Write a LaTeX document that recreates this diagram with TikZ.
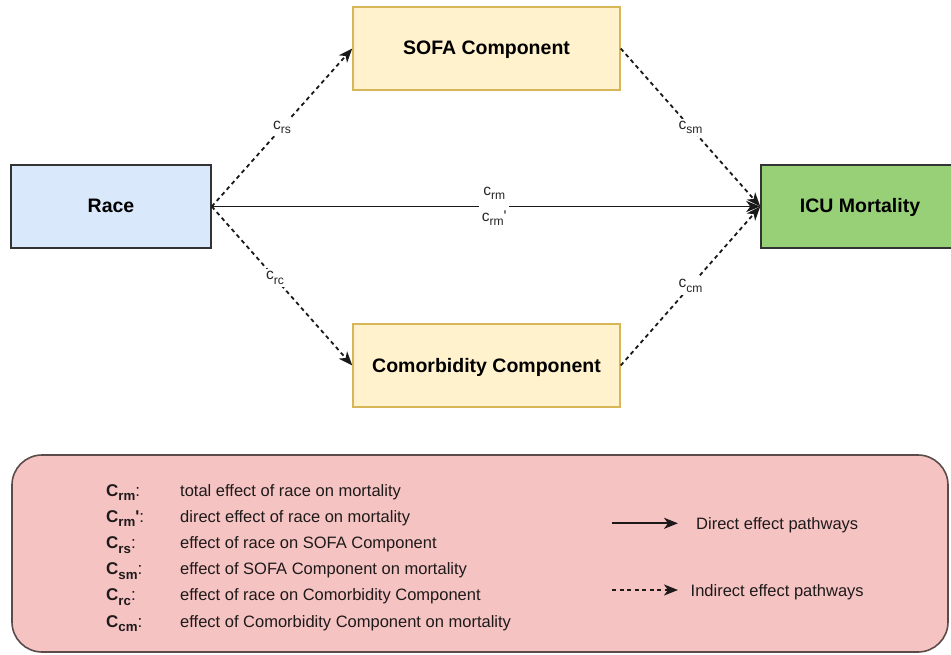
\documentclass[tikz,border=0pt]{standalone}
\usepackage{fontspec}
\setmainfont{Liberation Sans}
\usepackage{graphicx}
\usetikzlibrary{arrows.meta}

% lowered, smaller index letters (c_rm, c_rs, ...)
\newcommand\lowidx[1]{\raisebox{-0.28em}{\scalebox{0.78}{#1}}}
\newcommand\primemark{\textquotesingle}

\definecolor{raceFill}{HTML}{DAE8FC}
\definecolor{compFill}{HTML}{FFF2CC}
\definecolor{compLine}{HTML}{D6B656}
\definecolor{icuFill}{HTML}{97D077}
\definecolor{boxLine}{HTML}{333333}
\definecolor{keyFill}{HTML}{F6C3C3}
\definecolor{keyLine}{HTML}{5B4B4B}
\definecolor{inkText}{HTML}{1E1A1A}

\tikzset{
  varbox/.style={draw=boxLine, line width=1.5pt, minimum height=83pt,
    inner sep=0pt, text=black,
    font=\fontsize{19.5}{23}\selectfont\bfseries},
  compbox/.style={varbox, draw=compLine, fill=compFill, minimum width=267pt},
  boxtext/.style={inner sep=0pt, anchor=base,
    font=\fontsize{19.5}{23}\selectfont\bfseries},
  tipstyle/.tip={Stealth[length=14pt,width=11pt,inset=4pt]},
  directpath/.style={draw=black!90, line width=1.8pt, -{tipstyle}},
  indirectpath/.style={draw=black!90, line width=1.8pt,
    dash pattern=on 4pt off 3.5pt, -{tipstyle}},
  pathlabel/.style={fill=white, inner sep=2.5pt, text=black!85,
    font=\fontsize{15.5}{18}\selectfont},
  keysym/.style={anchor=base west, inner sep=0pt, text=inkText,
    font=\fontsize{17}{20}\selectfont},
  keytext/.style={anchor=base west, inner sep=0pt, text=inkText,
    font=\fontsize{16.5}{19}\selectfont},
}

\begin{document}
\begin{tikzpicture}[x=1pt,y=-1pt]
\useasboundingbox (0,0) rectangle (951,655);
\clip (0,0) rectangle (951,655);

% variables
\node[varbox, fill=raceFill, minimum width=200pt] (race) at (111,206.5) {};
\node[boxtext] (racetext) at (111,213) {Race};
\node[compbox] (sofa) at (486.5,48.5) {};
\node[boxtext] (sofatext) at (486.5,55) {SOFA Component};
\node[compbox] (comor) at (486.5,365.5) {};
\node[boxtext] (comortext) at (486.5,372) {Comorbidity Component};
\node[varbox, fill=icuFill, minimum width=200pt] (icu) at (861,206.5) {};
\node[boxtext] (icutext) at (860,213) {ICU Mortality};

% pathways
\draw[directpath] (race.east) -- (icu.west)
  node[pathlabel, pos=0.515, align=center, font=\fontsize{15.5}{26}\selectfont]
  (lrm) {c\lowidx{rm}\\c\lowidx{rm}\primemark};
\draw[indirectpath] (race.east) -- (sofa.west)
  node[pathlabel, pos=0.5] (lrs) {c\lowidx{rs}};
\draw[indirectpath] (sofa.east) -- (icu.west)
  node[pathlabel, pos=0.5] (lsm) {c\lowidx{sm}};
\draw[indirectpath] (race.east) -- (comor.west)
  node[pathlabel, pos=0.45] (lrc) {c\lowidx{rc}};
\draw[indirectpath] (comor.east) -- (icu.west)
  node[pathlabel, pos=0.5] (lcm) {c\lowidx{cm}};

% key
\draw[draw=keyLine, fill=keyFill, line width=1.6pt, rounded corners=30pt]
  (12,455) rectangle (948,652);

\node[keysym] (k1) at (106,496) {\textbf{C\lowidx{rm}}:};
\node[keysym] (k2) at (106,522.2) {\textbf{C\lowidx{rm}\primemark}:};
\node[keysym] (k3) at (106,548.4) {\textbf{C\lowidx{rs}}:};
\node[keysym] (k4) at (106,574.6) {\textbf{C\lowidx{sm}}:};
\node[keysym] (k5) at (106,600.8) {\textbf{C\lowidx{rc}}:};
\node[keysym] (k6) at (106,627) {\textbf{C\lowidx{cm}}:};

\node[keytext] (t1) at (180,496) {total effect of race on mortality};
\node[keytext] (t2) at (180,522.2) {direct effect of race on mortality};
\node[keytext] (t3) at (180,548.4) {effect of race on SOFA Component};
\node[keytext] (t4) at (180,574.6) {effect of SOFA Component on mortality};
\node[keytext] (t5) at (180,600.8) {effect of race on Comorbidity Component};
\node[keytext] (t6) at (180,627) {effect of Comorbidity Component on mortality};

\coordinate (ds) at (612,523.3);
\coordinate (de) at (678,523.3);
\coordinate (is) at (612,590);
\coordinate (ie) at (678,590);
\draw[directpath, draw=inkText] (ds) -- (de);
\draw[indirectpath, draw=inkText] (is) -- (ie);
\node[keytext] (td) at (696,529.3) {Direct effect pathways};
\node[keytext] (ti) at (690.5,596.7) {Indirect effect pathways};
\end{tikzpicture}
\end{document}
